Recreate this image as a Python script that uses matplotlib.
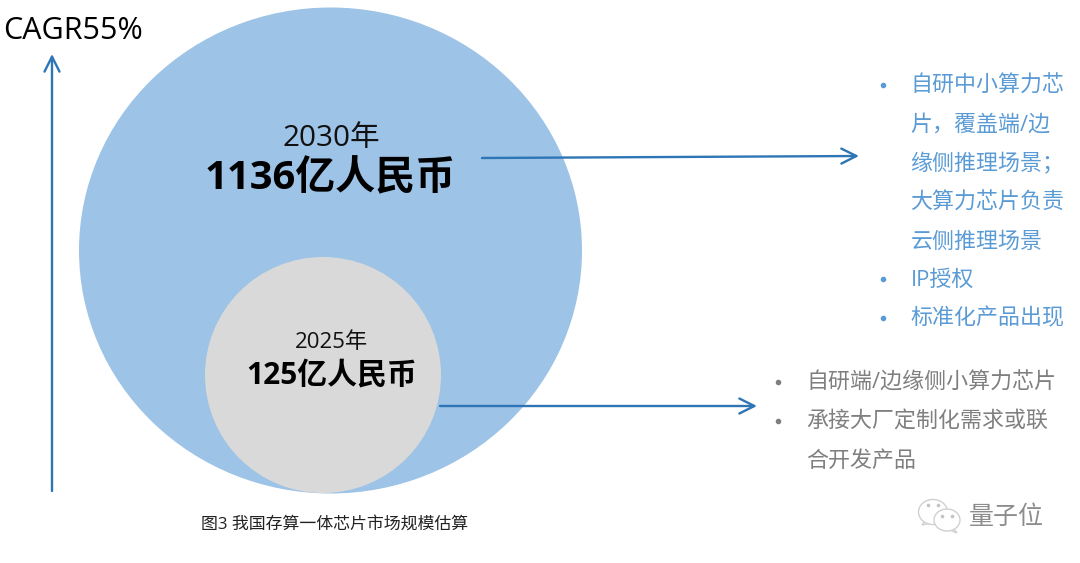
import matplotlib.pyplot as plt
from matplotlib.patches import Ellipse, Circle, Polygon

plt.rcParams['font.family'] = ['Open Sans', 'Noto Sans CJK SC', 'DejaVu Sans']

# bubble values, RMB 100M
years = ['2030年', '2025年']
values = ['1136亿人民币', '125亿人民币']
cagr = 'CAGR55%'
caption = '图3 我国存算一体芯片市场规模估算'
blue_lines = ['自研中小算力芯', '片，覆盖端/边', '缘侧推理场景；', '大算力芯片负责', '云侧推理场景', 'IP授权', '标准化产品出现']
blue_bullets = [0, 5, 6]
grey_lines = ['自研端/边缘侧小算力芯片', '承接大厂定制化需求或联', '合开发产品']
grey_bullets = [0, 1]

fig = plt.figure(figsize=(10.8, 5.63), dpi=100)
ax = fig.add_axes([0, 0, 1, 1])
ax.set_xlim(0, 1080)
ax.set_ylim(563, 0)
ax.axis('off')

ax.add_patch(Ellipse((330.5, 250.5), 503, 486, facecolor='#9dc3e6', edgecolor='none'))
ax.add_patch(Circle((323, 375), 118, facecolor='#d9d9d9', edgecolor='none'))

ax.text(331, 138, years[0], fontsize=21.3, ha='center', va='center', color='#111111')
ax.text(330, 179, values[0], fontsize=28.8, fontweight='bold', ha='center', va='center', color='black')
ax.text(331, 343, years[1], fontsize=16, ha='center', va='center', color='#111111')
ax.text(331.5, 375, values[1], fontsize=21.5, fontweight='bold', ha='center', va='center', color='black')
ax.text(73, 31, cagr, fontsize=22, ha='center', va='center', color='black')

arrow = dict(arrowstyle='->', color='#2e75b6', lw=1.7, mutation_scale=27, shrinkA=0, shrinkB=0)
ax.annotate('', xy=(52, 54), xytext=(52, 491), arrowprops=arrow)
ax.annotate('', xy=(859, 156), xytext=(482, 158), arrowprops=arrow)
ax.annotate('', xy=(757, 406), xytext=(440, 406), arrowprops=arrow)

blue_y = [86, 125, 164, 203, 242, 280, 319]
for i, (y, line) in enumerate(zip(blue_y, blue_lines)):
    ax.text(910.5, y, line, fontsize=15.8, color='#5b9bd5', ha='left', va='center')
    if i in blue_bullets:
        ax.plot(883, y - 1, 'o', ms=3, color='#5b9bd5')

grey_y = [383, 422, 461]
for i, (y, line) in enumerate(zip(grey_y, grey_lines)):
    ax.text(806.5, y, line, fontsize=15.8, color='#7f7f7f', ha='left', va='center')
    if i in grey_bullets:
        ax.plot(778, y - 1, 'o', ms=3, color='#7f7f7f')

ax.text(335, 525, caption, fontsize=12.2, fontweight='medium', color='#222222', ha='center', va='center')
ax.text(1006, 517, '量子位', fontsize=18, color='#8c8c8c', ha='center', va='center')

# wechat logo next to the watermark
for cx, cy, w, h, tail in [(933, 512, 29, 25, [(925, 521), (922, 525), (931, 523)]),
                           (947, 520, 26, 22, [(953, 528), (957, 533), (950, 530)])]:
    ax.add_patch(Polygon(tail, facecolor='white', edgecolor='#d0d0d0', lw=1))
    ax.add_patch(Ellipse((cx, cy), w, h, facecolor='white', edgecolor='#d0d0d0', lw=1))
for x, y in [(928, 505), (938, 505), (942, 516), (952, 516)]:
    ax.plot(x, y, 'o', ms=1.6, color='#c4c4c4')

fig.savefig('out.png', dpi=100)
